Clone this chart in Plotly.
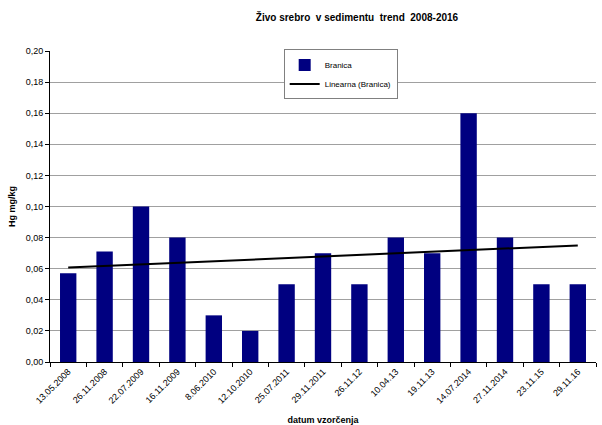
import numpy as np
import plotly.graph_objects as go

dates = ["13.05.2008", "26.11.2008", "22.07.2009", "16.11.2009", "8.06.2010",
         "12.10.2010", "25.07.2011", "29.11.2011", "26.11.12", "10.04.13",
         "19.11.13", "14.07.2014", "27.11.2014", "23.11.15", "29.11.16"]
branica = [0.057, 0.071, 0.100, 0.080, 0.030, 0.020, 0.050, 0.070, 0.050,
           0.080, 0.070, 0.160, 0.080, 0.050, 0.050]

idx = np.arange(1, len(branica) + 1)
slope, intercept = np.polyfit(idx, branica, 1)
trend = slope * idx + intercept

font = "Liberation Sans, Arial, sans-serif"

fig = go.Figure()
fig.add_trace(go.Bar(x=dates, y=branica, name="Branica",
                     marker=dict(color="#000080", line=dict(width=0))))
fig.add_trace(go.Scatter(x=dates, y=trend, name="Linearna (Branica)", mode="lines",
                         line=dict(color="#000000", width=2)))

fig.update_layout(
    width=602, height=425,
    margin=dict(l=50, r=6, t=51, b=63, autoexpand=False),
    paper_bgcolor="white", plot_bgcolor="white",
    separators=",.",
    font=dict(family=font, size=9, color="#000000"),
    title=dict(text="<b>Živo srebro  v sedimentu  trend  2008-2016</b>",
               x=0.593, xanchor="center", y=0.96, yanchor="middle",
               font=dict(size=10, family=font)),
    bargap=0.55,
    showlegend=True,
    legend=dict(x=0.428, y=1.005, xanchor="left", yanchor="top",
                bgcolor="white", bordercolor="#808080", borderwidth=1,
                font=dict(size=8, family=font), tracegroupgap=0,
                itemwidth=30),
    xaxis=dict(type="category", tickangle=-45, tickson="boundaries",
               ticks="outside", ticklen=4, tickcolor="#000000",
               showline=True, linecolor="#000000", linewidth=1,
               showgrid=False, tickfont=dict(size=9), automargin=False,
               title=dict(text="<b>datum vzorčenja</b>", font=dict(size=9), standoff=14)),
    yaxis=dict(range=[0, 0.2], dtick=0.02, tickformat=".2f",
               ticks="outside", ticklen=4, tickcolor="#000000",
               showline=True, linecolor="#000000", linewidth=1,
               showgrid=True, gridcolor="#a0a0a0", gridwidth=1,
               zeroline=False, tickfont=dict(size=9), automargin=False,
               title=dict(text="<b>Hg mg/kg</b>", font=dict(size=9), standoff=8)),
)

fig.write_html("out.html")
